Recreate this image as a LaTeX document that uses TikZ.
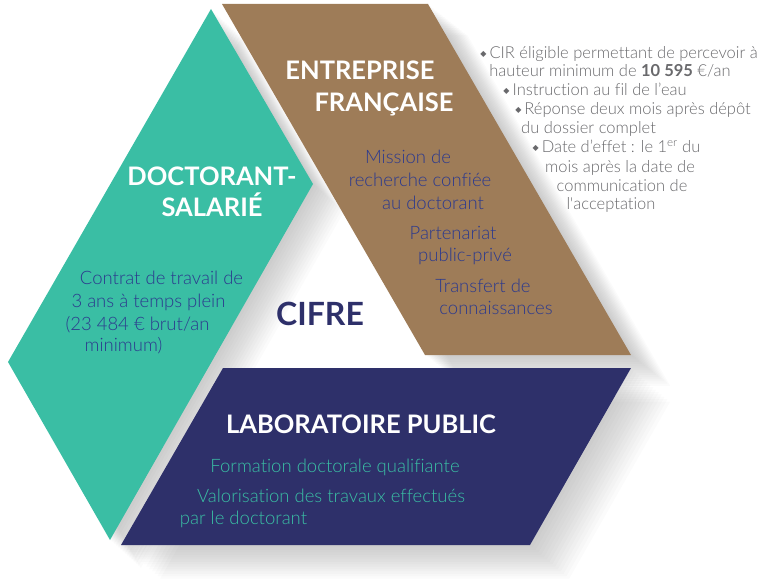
\documentclass[tikz,border=0pt]{standalone}
\usepackage{fontspec}
\setmainfont{Lato}[Ligatures={TeX,NoCommon}]
\IfFontExistsTF{Lato Light}
  {\newfontfamily\lightfont{Lato Light}[Ligatures={TeX,NoCommon}, BoldFont={Lato Bold}]}
  {\newfontfamily\lightfont{Lato}[Ligatures={TeX,NoCommon}]}
\newfontfamily\dejavu{DejaVu Sans}
\definecolor{cgreen}{RGB}{58,190,164}
\definecolor{cbrown}{RGB}{158,124,88}
\definecolor{cnavy}{RGB}{46,48,106}
\definecolor{ctext}{RGB}{44,58,142}
\definecolor{cgray}{RGB}{105,105,108}
\tikzset{
  head/.style={text=white, inner sep=0pt, anchor=base, font=\fontsize{25.5}{28}\selectfont\bfseries},
  body/.style={text=ctext, inner sep=0pt, anchor=base, font=\lightfont\fontsize{18.5}{22}\selectfont},
  labbody/.style={body, text=cgreen},
  note/.style={text=cgray, inner sep=0pt, anchor=base, font=\lightfont\fontsize{16.5}{19}\selectfont},
  shadowlayer/.style={fill=black, opacity=0.016}
}
\newcommand{\bul}{{\dejavu\fontsize{8}{8}\selectfont\raisebox{2pt}{◆}}\hspace{3pt}}
\begin{document}
\begin{tikzpicture}[x=1pt,y=-1pt]
\useasboundingbox (0,0) rectangle (767,585);
% soft shadows
\foreach \i in {1,...,14}{
  \fill[shadowlayer, shift={(\i*2.2,\i*2.0)}] (211,9) -- (313,184) -- (110,540) -- (8,362) -- cycle;
  \fill[shadowlayer, shift={(\i*2.8,\i*2.2)}] (222,4) -- (428,4) -- (631,355) -- (425,355) -- cycle;
  \fill[shadowlayer, shift={(\i*2.8,\i*2.4)}] (223,368) -- (631,368) -- (530,545) -- (121,545) -- cycle;
}
% shapes
\fill[cgreen] (211,9) -- (313,184) -- (110,540) -- (8,362) -- cycle;
\fill[cbrown] (222,4) -- (428,4) -- (631,355) -- (425,355) -- cycle;
\fill[cnavy] (223,368) -- (631,368) -- (530,545) -- (121,545) -- cycle;

% green block
\node[head] (d1) at (212,186) {DOCTORANT-};
\node[head] (d2) at (212,216) {SALARIÉ};
\node[body] (c1) at (161.5,284) {Contrat de travail de};
\node[body] (c2) at (148.5,307) {3 ans à temps plein};
\node[body] (c3) at (137.5,330) {(23 484 € brut/an};
\node[body] (c4) at (123.5,351) {minimum)};

% brown block
\node[head] (e1) at (360,80) {ENTREPRISE};
\node[head] (e2) at (384,112) {FRANÇAISE};
\node[body] (m1) at (408,164) {Mission de};
\node[body] (m2) at (420,187) {recherche confiée};
\node[body] (m3) at (433,209) {au doctorant};
\node[body] (p1) at (453,239) {Partenariat};
\node[body] (p2) at (465,261) {public-privé};
\node[body] (t1) at (483,292) {Transfert de};
\node[body] (t2) at (496,314) {connaissances};

% centre
\node[inner sep=0pt, anchor=base, text=cnavy, font=\fontsize{32}{34}\selectfont\bfseries] (cifre) at (320,325) {CIFRE};

% blue block
\node[head] (l1) at (361,433) {LABORATOIRE PUBLIC};
\node[labbody] (f1) at (335,472) {Formation doctorale qualifiante};
\node[labbody] (v1) at (331,502) {Valorisation des travaux effectués};
\node[labbody] (v2) at (243.5,524) {par le doctorant};

% notes
\node[note] (n1) at (619,59) {\bul CIR éligible permettant de percevoir à};
\node[note] (n2) at (610,77) {hauteur minimum de \textbf{10 595} €/an};
\node[note] (n3) at (595,96) {\bul Instruction au fil de l’eau};
\node[note] (n4) at (633,115) {\bul Réponse deux mois après dépôt};
\node[note] (n5) at (588.5,134) {du dossier complet};
\node[note] (n6) at (616.5,153) {\bul Date d’effet : le 1\textsuperscript{er} du};
\node[note] (n7) at (620,173) {mois après la date de};
\node[note] (n8) at (622,192) {communication de};
\node[note] (n9) at (611,210) {l\textquotesingle acceptation};
\end{tikzpicture}
\end{document}
